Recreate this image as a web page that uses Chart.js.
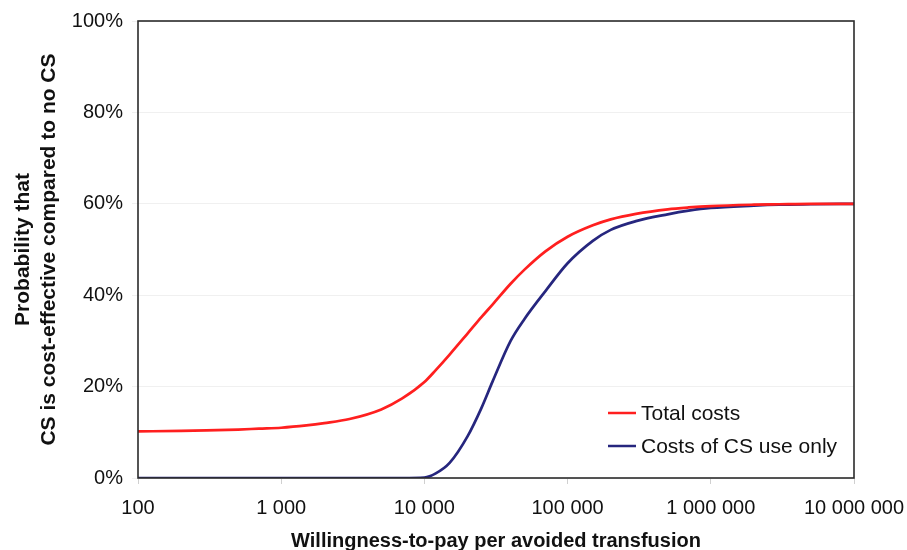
<!DOCTYPE html>
<html>
<head>
<meta charset="utf-8">
<script src="https://cdn.jsdelivr.net/npm/chart.js@4.4.1/dist/chart.umd.min.js"></script>
<style>
  html, body { margin: 0; padding: 0; background: #fff; }
  #wrap { width: 907px; height: 550px; }
</style>
</head>
<body>
<div id="wrap"><canvas id="chart"></canvas></div>
<script>
// willingness-to-pay values (x) and acceptability curves
const wtp = [100, 200, 300, 500, 700, 1000, 1500, 2000, 3000, 5000, 7000, 10000, 12000, 15000, 20000, 25000,
  30000, 40000, 50000, 70000, 100000, 150000, 200000, 300000, 500000, 700000, 1000000, 2000000, 3000000, 5000000, 10000000];
const totalCosts = [10.2, 10.3, 10.4, 10.6, 10.8, 11.0, 11.5, 12.0, 12.9, 15.0, 17.4, 21.0, 23.6, 27.0, 31.6, 35.2,
  38.0, 42.5, 45.6, 49.6, 52.8, 55.3, 56.6, 57.8, 58.8, 59.2, 59.5, 59.8, 59.9, 60.0, 60.0];
const csUseOnly = [0, 0, 0, 0, 0, 0, 0, 0, 0, 0, 0, 0.1, 1.0, 3.3, 9.1, 15.3,
  21.2, 30.0, 34.8, 40.9, 47.0, 51.9, 54.3, 56.2, 57.7, 58.5, 59.1, 59.6, 59.8, 59.9, 60.0];

const seriesNames = ['Total costs', 'Costs of CS use only'];
const seriesColors = ['#ff1f1f', '#26267e'];

const xTickValues = [100, 1000, 10000, 100000, 1000000, 10000000];
const xTickLabels = ['100', '1 000', '10 000', '100 000', '1 000 000', '10 000 000'];
const yTickValues = [0, 20, 40, 60, 80, 100];

const FONT = '"Liberation Sans", Arial, sans-serif';

function toPoints(ys) {
  return wtp.map((x, i) => ({ x: x, y: ys[i] }));
}

// box around the plot area
const frame = {
  id: 'frame',
  afterDatasetsDraw(chart) {
    const a = chart.chartArea, ctx = chart.ctx;
    ctx.save();
    ctx.strokeStyle = '#2b2b2b';
    ctx.lineWidth = 1.6;
    ctx.strokeRect(a.left, a.top, a.right - a.left, a.bottom - a.top);
    ctx.restore();
  }
};

// legend drawn inside the plot, lower right
const innerLegend = {
  id: 'innerLegend',
  afterDraw(chart) {
    const a = chart.chartArea, ctx = chart.ctx;
    ctx.save();
    ctx.font = '21px ' + FONT;
    ctx.textBaseline = 'middle';
    chart.data.datasets.forEach((ds, i) => {
      const y = a.bottom - 65 + i * 33;
      const x0 = a.right - 246;
      ctx.strokeStyle = ds.borderColor;
      ctx.lineWidth = 2.5;
      ctx.beginPath();
      ctx.moveTo(x0, y);
      ctx.lineTo(x0 + 28, y);
      ctx.stroke();
      ctx.fillStyle = '#111';
      ctx.fillText(ds.label, x0 + 33, y + 1);
    });
    ctx.restore();
  }
};

new Chart(document.getElementById('chart'), {
  type: 'line',
  data: {
    datasets: [
      { label: seriesNames[0], data: toPoints(totalCosts), borderColor: seriesColors[0] },
      { label: seriesNames[1], data: toPoints(csUseOnly), borderColor: seriesColors[1] }
    ]
  },
  options: {
    responsive: true,
    maintainAspectRatio: false,
    animation: false,
    layout: { padding: { top: 20, right: 53, left: 0, bottom: 0 } },
    elements: {
      point: { radius: 0 },
      line: { borderWidth: 2.7, cubicInterpolationMode: 'monotone', fill: false }
    },
    plugins: { legend: { display: false }, tooltip: { enabled: false } },
    scales: {
      x: {
        type: 'logarithmic',
        min: 100,
        max: 10000000,
        afterBuildTicks(scale) {
          scale.ticks = xTickValues.map(v => ({ value: v }));
        },
        afterFit(scale) {
          scale.height = 72;
          // the last label may run off the canvas, as in the original
          scale.paddingLeft = 0;
          scale.paddingRight = 0;
        },
        ticks: {
          autoSkip: false,
          maxRotation: 0,
          padding: 12,
          color: '#111',
          font: { family: FONT, size: 20 },
          callback: (v) => xTickLabels[xTickValues.indexOf(v)]
        },
        grid: { drawOnChartArea: false, color: '#d0d0d0', tickLength: 6 },
        border: { display: false },
        title: {
          display: true,
          text: 'Willingness-to-pay per avoided transfusion',
          color: '#111',
          font: { family: FONT, size: 20, weight: 'bold' },
          padding: { top: 9, bottom: -3 }
        }
      },
      y: {
        min: 0,
        max: 100,
        afterBuildTicks(scale) {
          scale.ticks = yTickValues.map(v => ({ value: v }));
        },
        afterFit(scale) { scale.width = 138; },
        ticks: {
          padding: 9,
          color: '#111',
          font: { family: FONT, size: 20 },
          callback: (v) => v + '%'
        },
        grid: { color: '#f0f0f0', tickLength: 6 },
        border: { display: false },
        title: {
          display: true,
          text: ['Probability that', 'CS is cost-effective compared to no CS'],
          color: '#111',
          font: { family: FONT, size: 21, weight: 'bold', lineHeight: 1.2 },
          padding: { top: 11, bottom: 0 }
        }
      }
    }
  },
  plugins: [frame, innerLegend]
});
</script>
</body>
</html>
